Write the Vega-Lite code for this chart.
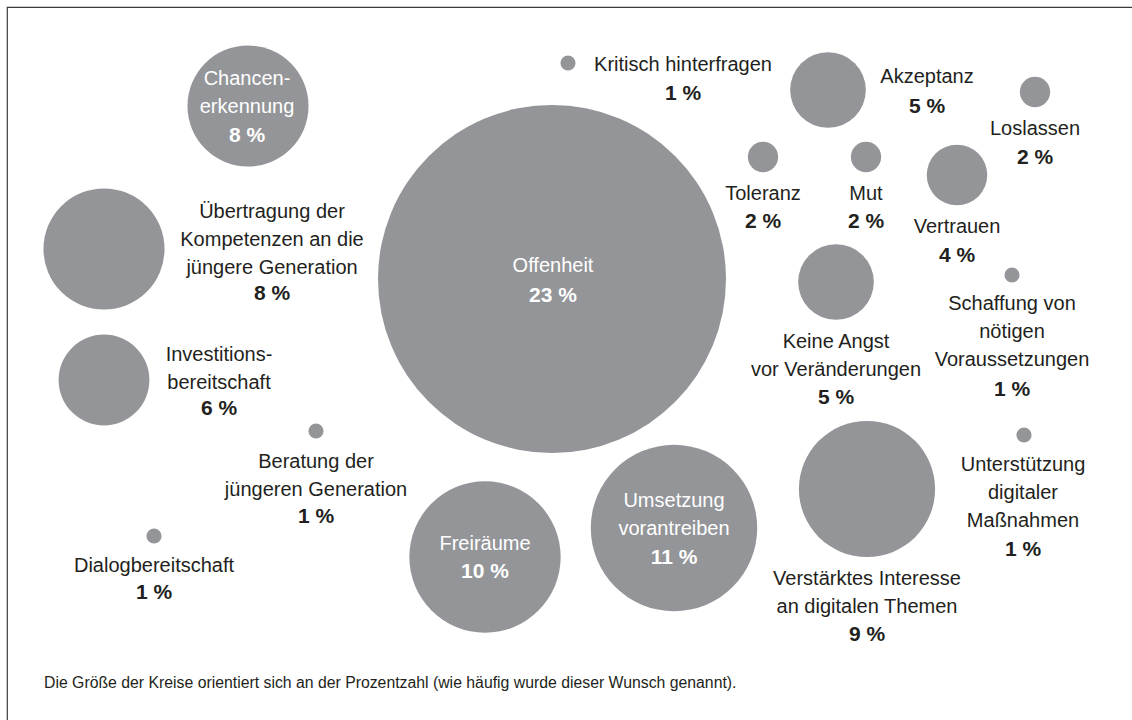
{
  "$schema": "https://vega.github.io/schema/vega-lite/v6.json",
  "width": 1125,
  "height": 713,
  "padding": {"left": 7, "top": 7, "right": 0, "bottom": 0},
  "autosize": {"type": "none"},
  "background": "#ffffff",
  "config": {
    "view": {"stroke": "#3a3a3a", "strokeWidth": 1.2, "strokeDash": [1125, 1838, 713]},
    "font": "Liberation Sans"
  },
  "datasets": {
    "bubbles": [
      {"name": "Chancen-\nerkennung", "pct": 8, "pctLabel": "8 %", "x": 248, "y": 106, "lx": 247, "ly": 85, "py": 142, "pos": "inside"},
      {"name": "Übertragung der\nKompetenzen an die\njüngere Generation", "pct": 8, "pctLabel": "8 %", "x": 104, "y": 249, "lx": 272, "ly": 218, "py": 300, "pos": "outside"},
      {"name": "Investitions-\nbereitschaft", "pct": 6, "pctLabel": "6 %", "x": 104, "y": 380, "lx": 219, "ly": 361, "py": 415, "pos": "outside"},
      {"name": "Offenheit", "pct": 23, "pctLabel": "23 %", "x": 552, "y": 279, "lx": 553, "ly": 272, "py": 302, "pos": "inside"},
      {"name": "Kritisch hinterfragen", "pct": 1, "pctLabel": "1 %", "x": 568, "y": 63, "lx": 683, "ly": 71, "py": 100, "pos": "outside"},
      {"name": "Akzeptanz", "pct": 5, "pctLabel": "5 %", "x": 828, "y": 90, "lx": 927, "ly": 83, "py": 113, "pos": "outside"},
      {"name": "Loslassen", "pct": 2, "pctLabel": "2 %", "x": 1035, "y": 92, "lx": 1035, "ly": 135, "py": 164, "pos": "outside"},
      {"name": "Toleranz", "pct": 2, "pctLabel": "2 %", "x": 763, "y": 157, "lx": 763, "ly": 200, "py": 228, "pos": "outside"},
      {"name": "Mut", "pct": 2, "pctLabel": "2 %", "x": 866, "y": 157, "lx": 866, "ly": 200, "py": 228, "pos": "outside"},
      {"name": "Vertrauen", "pct": 4, "pctLabel": "4 %", "x": 957, "y": 175, "lx": 957, "ly": 233, "py": 262, "pos": "outside"},
      {"name": "Keine Angst\nvor Veränderungen", "pct": 5, "pctLabel": "5 %", "x": 836, "y": 282, "lx": 836, "ly": 348, "py": 404, "pos": "outside"},
      {"name": "Schaffung von\nnötigen\nVoraussetzungen", "pct": 1, "pctLabel": "1 %", "x": 1012, "y": 275, "lx": 1012, "ly": 310, "py": 396, "pos": "outside"},
      {"name": "Unterstützung\ndigitaler\nMaßnahmen", "pct": 1, "pctLabel": "1 %", "x": 1024, "y": 435, "lx": 1023, "ly": 471, "py": 556, "pos": "outside"},
      {"name": "Verstärktes Interesse\nan digitalen Themen", "pct": 9, "pctLabel": "9 %", "x": 867, "y": 489, "lx": 867, "ly": 585, "py": 641, "pos": "outside"},
      {"name": "Umsetzung\nvorantreiben", "pct": 11, "pctLabel": "11 %", "x": 674, "y": 528, "lx": 674, "ly": 507, "py": 564, "pos": "inside"},
      {"name": "Freiräume", "pct": 10, "pctLabel": "10 %", "x": 485, "y": 557, "lx": 485, "ly": 550, "py": 578, "pos": "inside"},
      {"name": "Beratung der\njüngeren Generation", "pct": 1, "pctLabel": "1 %", "x": 316, "y": 431, "lx": 316, "ly": 468, "py": 523, "pos": "outside"},
      {"name": "Dialogbereitschaft", "pct": 1, "pctLabel": "1 %", "x": 154, "y": 536, "lx": 154, "ly": 572, "py": 599, "pos": "outside"}
    ],
    "notes": [
      {"text": "Die Größe der Kreise orientiert sich an der Prozentzahl (wie häufig wurde dieser Wunsch genannt).", "x": 44, "y": 688}
    ]
  },
  "layer": [
    {
      "data": {"name": "bubbles"},
      "mark": {"type": "circle", "opacity": 1, "color": "#939598", "strokeWidth": 0},
      "encoding": {
        "x": {"field": "x", "type": "quantitative", "scale": {"domain": [7, 1132], "nice": false, "zero": false}, "axis": null},
        "y": {"field": "y", "type": "quantitative", "scale": {"domain": [7, 720], "nice": false, "zero": false, "reverse": true}, "axis": null},
        "size": {"field": "pct", "type": "quantitative", "scale": {"type": "pow", "exponent": 2, "domain": [0, 23], "range": [0, 121104], "zero": true}, "legend": null}
      }
    },
    {
      "data": {"name": "bubbles"},
      "mark": {"type": "text", "align": "center", "baseline": "alphabetic", "font": "Liberation Sans", "fontSize": 20, "lineHeight": 28, "lineBreak": "\n"},
      "encoding": {
        "x": {"field": "lx", "type": "quantitative"},
        "y": {"field": "ly", "type": "quantitative"},
        "text": {"field": "name", "type": "nominal"},
        "color": {"field": "pos", "type": "nominal", "scale": {"domain": ["inside", "outside"], "range": ["#ffffff", "#231f20"]}, "legend": null}
      }
    },
    {
      "data": {"name": "bubbles"},
      "mark": {"type": "text", "align": "center", "baseline": "alphabetic", "font": "Liberation Sans", "fontSize": 21, "fontWeight": "bold"},
      "encoding": {
        "x": {"field": "lx", "type": "quantitative"},
        "y": {"field": "py", "type": "quantitative"},
        "text": {"field": "pctLabel", "type": "nominal"},
        "color": {"field": "pos", "type": "nominal", "scale": {"domain": ["inside", "outside"], "range": ["#ffffff", "#231f20"]}, "legend": null}
      }
    },
    {
      "data": {"name": "notes"},
      "mark": {"type": "text", "align": "left", "baseline": "alphabetic", "font": "Liberation Sans", "fontSize": 15.8, "color": "#231f20"},
      "encoding": {
        "x": {"field": "x", "type": "quantitative"},
        "y": {"field": "y", "type": "quantitative"},
        "text": {"field": "text", "type": "nominal"}
      }
    }
  ]
}
